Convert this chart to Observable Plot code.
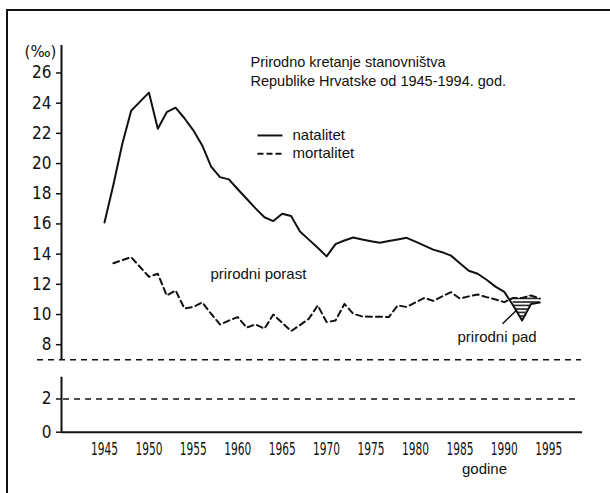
<!DOCTYPE html>
<html><head><meta charset="utf-8">
<script src="https://cdn.jsdelivr.net/npm/d3@7"></script>
<script src="https://cdn.jsdelivr.net/npm/@observablehq/plot@0.6"></script>
<style>
html,body{margin:0;padding:0;background:#fff;}
#wrap{position:relative;width:610px;height:493px;overflow:hidden;background:#fff;}
#frame{position:absolute;left:6px;top:9px;right:-10px;bottom:-10px;border-left:2px solid #111;border-top:2px solid #111;pointer-events:none;}
#wrap svg{position:absolute;left:0;top:0;}
.cond text{font-stretch:condensed;}
</style></head><body><div id="wrap"><div id="frame"></div></div>
<script>
// ---- data ----
const natYears = d3.range(1945, 1995);
const natalitet = [16.1, 18.6, 21.3, 23.5, 24.1, 24.7, 22.3, 23.4, 23.7, 23.0,
  22.2, 21.2, 19.8, 19.1, 18.95, 18.3, 17.67, 17.03, 16.44, 16.19,
  16.68, 16.52, 15.5, 14.96, 14.42, 13.85, 14.66, 14.9, 15.1, 14.97,
  14.86, 14.75, 14.87, 14.97, 15.08, 14.83, 14.56, 14.3, 14.13, 13.9,
  13.4, 12.9, 12.7, 12.3, 11.85, 11.5, 10.6, 9.6, 10.7, 10.8];
const mortYears = d3.range(1946, 1995);
const mortalitet = [13.4, 13.6, 13.8, 13.15, 12.5, 12.7, 11.26, 11.6, 10.4, 10.5,
  10.8, 10.05, 9.34, 9.6, 9.83, 9.13, 9.35, 9.06, 10.0, 9.45,
  8.9, 9.3, 9.72, 10.6, 9.5, 9.6, 10.7, 10.05, 9.87, 9.85,
  9.85, 9.83, 10.6, 10.5, 10.8, 11.1, 10.9, 11.2, 11.48, 11.05,
  11.2, 11.33, 11.15, 11.0, 10.82, 11.1, 11.1, 11.26, 11.05];
const padYears = [1991, 1992, 1993, 1994]; // prirodni pad (natalitet < mortalitet)

const xTicks = [1945, 1950, 1955, 1960, 1965, 1970, 1975, 1980, 1985, 1990, 1995];
const yTicksUpper = [8, 10, 12, 14, 16, 18, 20, 22, 24, 26];
const yTicksLower = [0, 2];
const unitLabel = "(‰)";
const titleLines = ["Prirodno kretanje stanovništva", "Republike Hrvatske od 1945-1994. god."];
const legendNames = ["natalitet", "mortalitet"];
const porastLabel = "prirodni porast";
const padLabel = "prirodni pad";
const xLabel = "godine";

// ---- layout: broken value axis drawn as two stacked panels ----
const X0 = 1940.16, X1 = 1998.8;                // extent of the axes
const upperDomain = [7.0, 27.82];               // upper panel (natalitet / mortalitet)
const lowerDomain = [0, 4.36];                  // lower panel (0 - 2)
const lowerAxisTop = 3.31;

const nat = natYears.map((year, i) => ({year, value: natalitet[i]}));
const mort = mortYears.map((year, i) => ({year, value: mortalitet[i]}));
const pad = padYears.map(year => ({year, nat: natalitet[natYears.indexOf(year)], mort: mortalitet[mortYears.indexOf(year)]}));

const narrow = "DejaVu Sans, sans-serif";
const sans = "Liberation Sans, Arial, Helvetica, sans-serif";
const W = 610, H = 493, breakPx = 359.3;
const common = {width: W, height: H, marginLeft: 61, marginRight: 28,
  style: {background: "transparent", color: "#111", fontFamily: sans, overflow: "visible"}};

const upper = Plot.plot({
  ...common,
  marginTop: 45, marginBottom: H - breakPx,
  x: {domain: [X0, X1], axis: null},
  y: {domain: upperDomain},
  marks: [
    Plot.axisY({ticks: yTicksUpper, anchor: "left", tickSize: 5, tickPadding: 5, strokeWidth: 1.5,
      fontSize: 17, fontFamily: narrow, tickFormat: d => String(d), label: null, className: "cond"}),
    Plot.ruleX([X0], {y1: upperDomain[0], y2: upperDomain[1], strokeWidth: 2}),
    Plot.ruleY([upperDomain[0]], {x1: 1937.46, x2: 1998.69, strokeWidth: 1.5, strokeDasharray: "6,5"}),
    Plot.areaY(pad, {x: "year", y1: "nat", y2: "mort", fill: "url(#hatch)"}),
    Plot.line(nat, {x: "year", y: "value", stroke: "#111", strokeWidth: 2}),
    Plot.line(mort, {x: "year", y: "value", stroke: "#111", strokeWidth: 2, strokeDasharray: "6,4"}),
    Plot.text([unitLabel], {x: 1937.8, y: 27.05, text: d => d, textAnchor: "middle", lineAnchor: "bottom", fontSize: 15, fontFamily: narrow}),
    Plot.text(titleLines, {x: 1961.43, y: [26.38, 25.17], text: d => d, textAnchor: "start", lineAnchor: "bottom", fontSize: 14.5}),
    Plot.link([0], {x1: 1962.22, x2: 1965.03, y1: 21.86, y2: 21.86, strokeWidth: 2}),
    Plot.link([0], {x1: 1962.22, x2: 1965.03, y1: 20.65, y2: 20.65, strokeWidth: 2, strokeDasharray: "6,3"}),
    Plot.text(legendNames, {x: 1966.16, y: [21.53, 20.34], text: d => d, textAnchor: "start", lineAnchor: "bottom", fontSize: 15}),
    Plot.text([porastLabel], {x: 1956.93, y: 12.32, text: d => d, textAnchor: "start", lineAnchor: "bottom", fontSize: 15}),
    Plot.text([padLabel], {x: 1984.73, y: 8.15, text: d => d, textAnchor: "start", lineAnchor: "bottom", fontSize: 15}),
    Plot.link([0], {x1: 1989.8, y1: 9.39, x2: 1991.4, y2: 10.3, strokeWidth: 1.5})
  ]
});

const lower = Plot.plot({
  ...common,
  marginTop: breakPx, marginBottom: 61.3,
  x: {domain: [X0, X1]},
  y: {domain: lowerDomain},
  marks: [
    Plot.axisY({ticks: yTicksLower, anchor: "left", tickSize: 5, tickPadding: 5, strokeWidth: 1.5,
      fontSize: 17, fontFamily: narrow, tickFormat: d => String(d), label: null, className: "cond"}),
    Plot.axisX({ticks: xTicks, anchor: "bottom", tickSize: 0, tickPadding: 10,
      fontSize: 18, fontFamily: narrow, tickFormat: d => String(d), label: null, className: "cond"}),
    Plot.ruleX([X0], {y1: 0, y2: lowerAxisTop, strokeWidth: 2}),
    Plot.ruleY([0], {x1: X0, x2: X1, strokeWidth: 2}),
    Plot.ruleY([2], {x1: 1940.39, x2: 1998.24, strokeWidth: 1.5, strokeDasharray: "6,5"}),
    Plot.text([xLabel], {x: 1987.77, y: -2.5, text: d => d, textAnchor: "middle", lineAnchor: "bottom", fontSize: 15})
  ]
});

// hatch pattern for "prirodni pad"
const defs = d3.select(upper).insert("defs", ":first-child");
const pat = defs.append("pattern").attr("id", "hatch").attr("patternUnits", "userSpaceOnUse")
  .attr("width", 6).attr("height", 3.5);
pat.append("line").attr("x1", 0).attr("x2", 6).attr("y1", 1).attr("y2", 1)
  .attr("stroke", "#111").attr("stroke-width", 1.5);

// condensed hand-lettered year labels
d3.select(lower).selectAll('g[aria-label="x-axis tick label"] text')
  .attr("textLength", 27).attr("lengthAdjust", "spacingAndGlyphs");

const wrap = document.getElementById("wrap");
wrap.appendChild(lower);
wrap.appendChild(upper);
</script>
</body></html>
